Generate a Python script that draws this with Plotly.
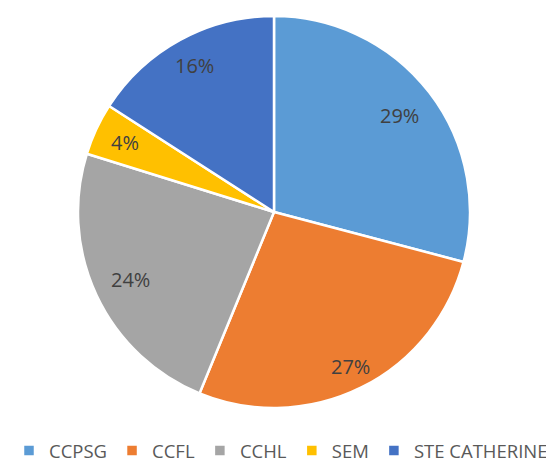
import math
import plotly.graph_objects as go

labels = ["CCPSG", "CCFL", "CCHL", "SEM", "STE CATHERINE"]
values = [29.1, 27.1, 23.6, 4.3, 15.9]
colors = ["#5B9BD5", "#ED7D31", "#A5A5A5", "#FFC000", "#4472C4"]
label_radius = [0.81, 0.88, 0.81, 0.84, 0.85]

# page body has an 8px margin, so the figure is 546x462 and offset by 8px
W, H = 546, 462
cx, cy, R = 266, 204, 196

fig = go.Figure(go.Pie(
    labels=labels, values=values, sort=False, direction="clockwise", rotation=0,
    marker=dict(colors=colors, line=dict(color="white", width=2.5)),
    textinfo="none", hoverinfo="label+percent",
    domain=dict(x=[(cx - R) / W, (cx + R) / W], y=[1 - (cy + R) / H, 1 - (cy - R) / H]),
))

total = sum(values)
cum = 0
annotations = []
for v, f in zip(values, label_radius):
    mid = (cum + v / 2) / total * 2 * math.pi
    cum += v
    x = cx + f * R * math.sin(mid)
    y = cy - f * R * math.cos(mid)
    annotations.append(dict(
        x=x / W, y=1 - y / H, xref="paper", yref="paper", showarrow=False,
        xanchor="center", yanchor="middle",
        text=f"{round(v / total * 100)}%",
        font=dict(size=20, color="#404040", family="Open Sans"),
    ))

fig.update_layout(
    width=W, height=H, margin=dict(l=0, r=0, t=0, b=0, autoexpand=False),
    paper_bgcolor="white", plot_bgcolor="white",
    annotations=annotations,
    legend=dict(orientation="h", x=0.5, xanchor="center", y=0, yanchor="bottom",
                font=dict(size=18.5, color="#595959", family="Open Sans"),
                traceorder="normal", itemwidth=30),
)
fig.write_html("out.html")
